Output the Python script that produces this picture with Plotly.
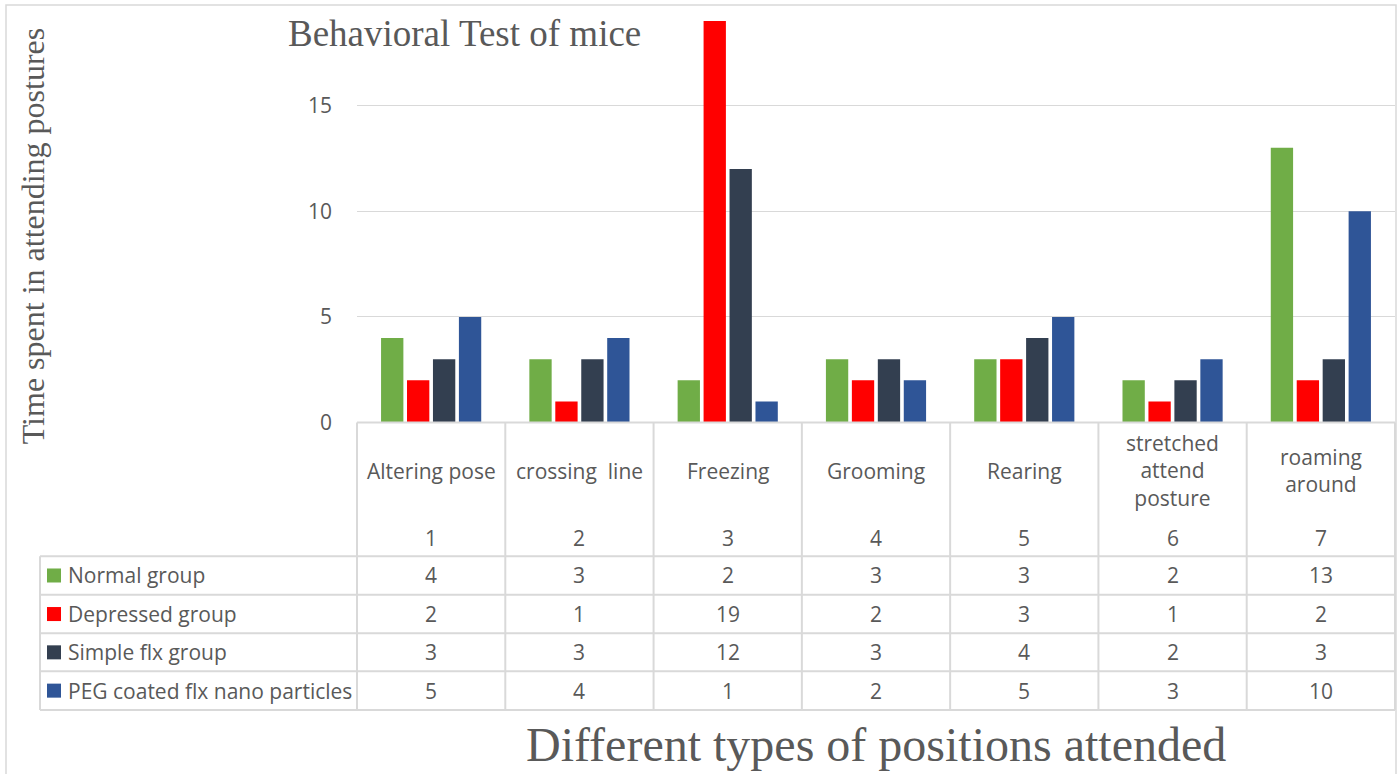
import plotly.graph_objects as go

W, H = 1399, 774
FIG_H = 788  # rendered page height observed in the photograph

categories = ["Altering pose", "crossing  line", "Freezing", "Grooming", "Rearing",
              "stretched<br>attend<br>posture", "roaming<br>around"]
cat_numbers = ["1", "2", "3", "4", "5", "6", "7"]
series_names = ["Normal group", "Depressed group", "Simple flx group", "PEG coated flx nano particles"]
normal = [4, 3, 2, 3, 3, 2, 13]
depressed = [2, 1, 19, 2, 3, 1, 2]
simple_flx = [3, 3, 12, 3, 4, 2, 3]
peg_nano = [5, 4, 1, 2, 5, 3, 10]
y_ticks = [0, 5, 10, 15]
colors = ["#70AD47", "#FF0000", "#333F50", "#2F5597"]

series_values = [normal, depressed, simple_flx, peg_nano]

def px(x):
    return x / W

def py(y):
    return 1 - y / H

# plot area in pixels
PL, PR, PT, PB = 357, 1395, 20, 422
GRID = "#D9D9D9"
TXT = "#595959"
TFONT = "Open Sans"
TSIZE = 21

fig = go.Figure()
xs = list(range(len(categories)))
for name, vals, col in zip(series_names, series_values, colors):
    fig.add_trace(go.Bar(x=xs, y=vals, name=name, marker=dict(color=col, line=dict(width=0)),
                         showlegend=False, hoverinfo="y+name"))

fig.update_layout(
    width=W, height=FIG_H,
    margin=dict(l=0, r=0, t=0, b=0),
    paper_bgcolor="white", plot_bgcolor="white",
    barmode="group", bargap=0.3, bargroupgap=0.14,
    xaxis=dict(domain=[px(PL), px(PR)], range=[-0.5, len(categories) - 0.5],
               showticklabels=False, showgrid=False, zeroline=False, showline=False, ticks=""),
    yaxis=dict(domain=[py(PB), py(PT)], range=[0, 19.05], tickvals=y_ticks,
               showgrid=True, gridcolor=GRID, gridwidth=1, zeroline=False, showline=False,
               tickfont=dict(family=TFONT, size=TSIZE, color=TXT), ticks="", ticklabelstandoff=24),
)

shapes = []
annotations = []

# outer border
shapes.append(dict(type="rect", xref="paper", yref="paper", x0=px(6), x1=px(1396), y0=py(H + 30), y1=py(5),
                   line=dict(color=GRID, width=1.5), fillcolor="rgba(0,0,0,0)", layer="below"))

# table geometry
col_w = (PR - PL) / len(categories)
col_x = [PL + i * col_w for i in range(len(categories) + 1)]
row_y = [555.5, 594, 632.5, 670.5, 709]
TL = 40

def line(x0, y0, x1, y1):
    shapes.append(dict(type="line", xref="paper", yref="paper", x0=px(x0), y0=py(y0), x1=px(x1), y1=py(y1),
                       line=dict(color=GRID, width=2)))

# horizontal lines
line(PL, PB, PR, PB)
for ry in row_y:
    line(TL, ry, PR, ry)
# vertical lines
for cx in col_x:
    line(cx, PB, cx, row_y[-1])
line(TL, row_y[0], TL, row_y[-1])

# header texts
for i, (cat, num) in enumerate(zip(categories, cat_numbers)):
    cx = (col_x[i] + col_x[i + 1]) / 2
    annotations.append(dict(x=px(cx), y=py(470), xref="paper", yref="paper", text=cat, showarrow=False,
                            font=dict(family=TFONT, size=TSIZE, color=TXT), align="center",
                            xanchor="center", yanchor="middle"))
    annotations.append(dict(x=px(cx), y=py(537), xref="paper", yref="paper", text=num, showarrow=False,
                            font=dict(family=TFONT, size=TSIZE, color=TXT), xanchor="center", yanchor="middle"))

# data rows
for r, (name, vals, col) in enumerate(zip(series_names, series_values, colors)):
    yc = (row_y[r] + row_y[r + 1]) / 2
    shapes.append(dict(type="rect", xref="paper", yref="paper", x0=px(47), x1=px(61),
                       y0=py(yc + 7), y1=py(yc - 7), fillcolor=col, line=dict(width=0)))
    annotations.append(dict(x=px(66), y=py(yc), xref="paper", yref="paper", text=name, showarrow=False,
                            font=dict(family=TFONT, size=TSIZE, color=TXT), xanchor="left", yanchor="middle"))
    for i, v in enumerate(vals):
        cx = (col_x[i] + col_x[i + 1]) / 2
        annotations.append(dict(x=px(cx), y=py(yc), xref="paper", yref="paper", text=str(v), showarrow=False,
                                font=dict(family=TFONT, size=TSIZE, color=TXT), xanchor="center", yanchor="middle"))

# titles
annotations.append(dict(x=px(286), y=py(33), xref="paper", yref="paper", text="Behavioral Test of mice",
                        showarrow=False, font=dict(family="Liberation Serif", size=37, color=TXT),
                        xanchor="left", yanchor="middle"))
annotations.append(dict(x=px(876), y=py(744), xref="paper", yref="paper", text="Different types of positions attended",
                        showarrow=False, font=dict(family="Liberation Serif", size=48, color=TXT),
                        xanchor="center", yanchor="middle"))
annotations.append(dict(x=px(33), y=py(236), xref="paper", yref="paper", text="Time spent in attending postures",
                        showarrow=False, textangle=-90, font=dict(family="Liberation Serif", size=32, color=TXT),
                        xanchor="center", yanchor="middle"))

fig.update_layout(shapes=shapes, annotations=annotations)
fig.write_html("out.html")
